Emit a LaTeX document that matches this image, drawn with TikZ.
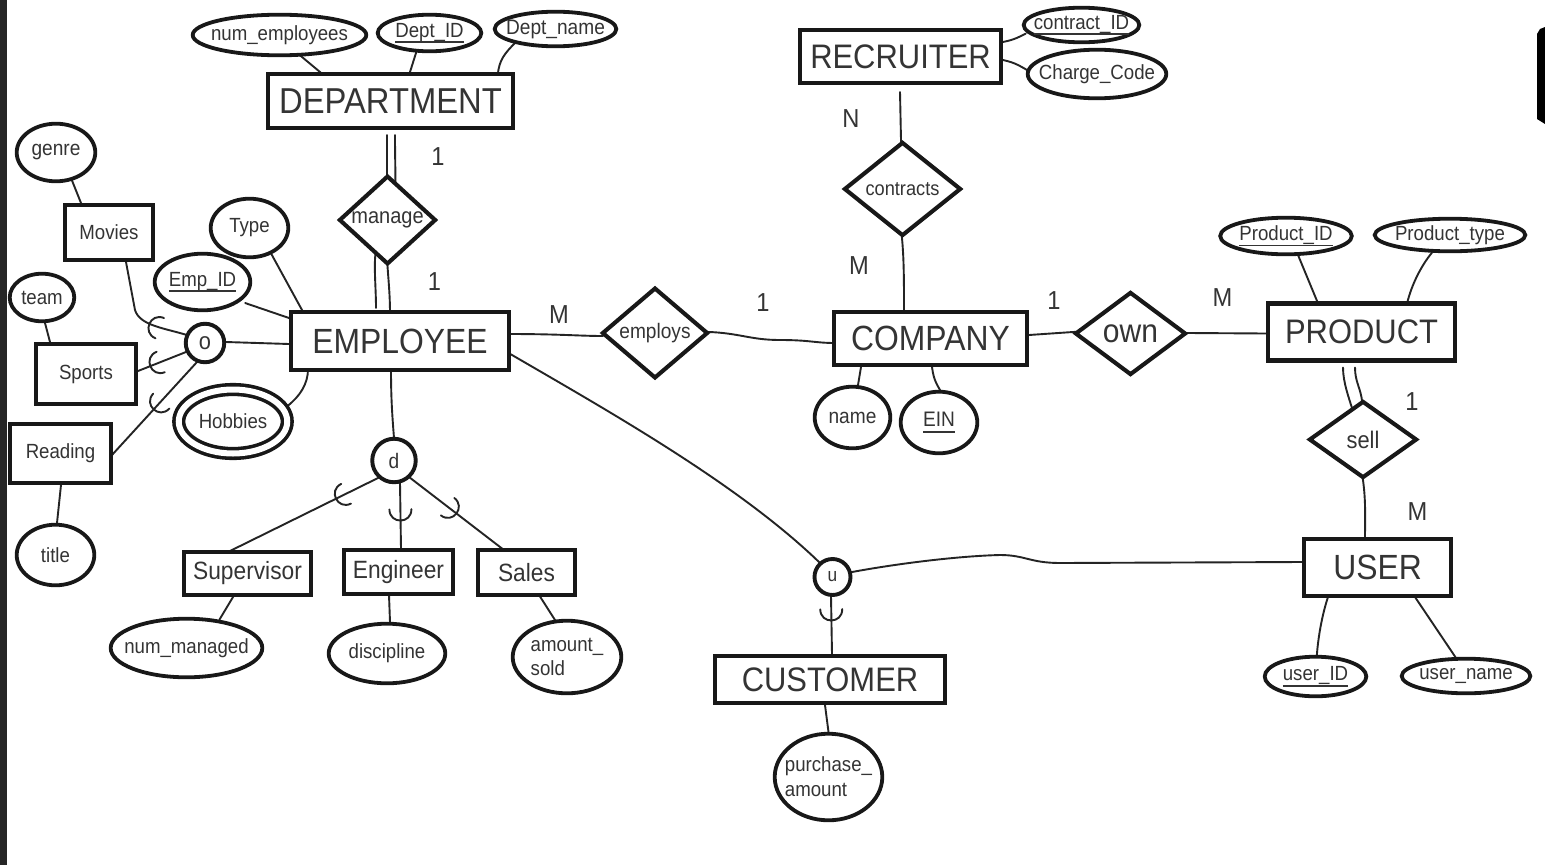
\documentclass[tikz,border=0pt]{standalone}
\usepackage{fontspec}
\setmainfont{Liberation Sans}[FakeStretch=0.91]
\usetikzlibrary{shapes.geometric,decorations.markings}
\pgfdeclarelayer{bg}
\pgfsetlayers{bg,main}
\definecolor{tc}{RGB}{52,52,52}
\definecolor{lc}{RGB}{24,24,24}
\definecolor{cc}{RGB}{36,36,36}
\newcommand\ulx[1]{\leavevmode\setbox0=\hbox{#1}\rlap{\rule[-6pt]{\wd0}{1.6pt}}\box0}
\begin{document}
\begin{tikzpicture}[x=1pt,y=-1pt,
 ent/.style={draw=lc, line width=4.1pt, fill=white, inner sep=0pt, text=tc, font=\fontsize{35}{40}\selectfont},
 fmid/.style={font=\fontsize{25}{30}\selectfont},
 fsml/.style={font=\fontsize{20.5}{24}\selectfont},
 rel/.style={diamond, draw=lc, line width=4.1pt, fill=white, inner sep=0pt, aspect=1, text=tc},
 attr/.style={ellipse, draw=lc, line width=3.8pt, fill=white, inner sep=0pt},
 gen/.style={circle, draw=lc, line width=3.9pt, fill=white, inner sep=0pt, text=tc},
 lnk/.style={draw=cc, line width=1.9pt, line cap=round},
 ext/.style={shorten <=-3pt, shorten >=-3pt},
 extend/.style={shorten >=-3pt},
 card/.style={text=tc, font=\fontsize{26}{30}\selectfont, inner sep=0pt},
 every label/.style={text=tc, font=\fontsize{20.5}{24}\selectfont, inner sep=0pt},
 subsetmark/.style={postaction={decorate, decoration={markings, mark=at position #1 with {\draw[draw=cc, line width=1.9pt, line cap=round] (-7pt,-11pt) .. controls (5pt,-11pt) and (5pt,11pt) .. (-7pt,11pt);}}}},
]
\useasboundingbox (0,0) rectangle (1545,865);

% frame remnants
\fill[black!85] (0,0) rectangle (7,865);
\fill[black] (1545,27) -- (1540,29) -- (1537,34) -- (1537,119) -- (1545,124) -- cycle;

% entities
\node[ent, minimum width=245pt, minimum height=54pt, font=\fontsize{36}{40}\selectfont] (dept) at (390.5,101) {DEPARTMENT};
\node[ent, minimum width=218pt, minimum height=58pt] (emp) at (400,341) {EMPLOYEE};
\node[ent, minimum width=201pt, minimum height=53pt, font=\fontsize{34}{40}\selectfont] (recr) at (900.5,56.5) {RECRUITER};
\node[ent, minimum width=193pt, minimum height=53pt] (comp) at (930.5,338.5) {COMPANY};
\node[ent, minimum width=187pt, minimum height=57pt, font=\fontsize{34}{40}\selectfont] (prod) at (1361.5,332) {PRODUCT};
\node[ent, minimum width=147pt, minimum height=57pt] (user) at (1377.5,567.5) {USER\hspace{16pt}};
\node[ent, minimum width=230pt, minimum height=47pt, font=\fontsize{34}{40}\selectfont] (cust) at (830,679.5) {CUSTOMER\hspace{15pt}};
\node[ent, fmid, minimum width=127pt, minimum height=43pt] (superv) at (247.5,573.5) {Supervisor};
\node[ent, fmid, minimum width=109pt, minimum height=44pt] (engin) at (398.5,572) {Engineer};
\node[ent, fmid, minimum width=97pt, minimum height=45pt] (sales) at (526.5,572.5) {\raisebox{-3pt}{Sales}};
\node[ent, fsml, line width=3.8pt, minimum width=88pt, minimum height=55pt] (movies) at (109,232.5) {Movies};
\node[ent, fsml, line width=3.8pt, minimum width=100pt, minimum height=60pt] (sports) at (86,374) {Sports\hspace{8pt}};
\node[ent, fsml, line width=3.8pt, minimum width=101pt, minimum height=59pt] (reading) at (60.5,453.5) {Reading\hspace{9pt}};

% relationships
\node[rel, minimum width=97pt, minimum height=72pt, font=\fontsize{22}{26}\selectfont] (manage) at (387.5,220) {manage};
\node[rel, minimum width=117pt, minimum height=94pt, font=\fontsize{20}{24}\selectfont] (contracts) at (902.5,189) {contracts};
\node[rel, minimum width=106pt, minimum height=88pt, font=\fontsize{21}{25}\selectfont] (employs) at (655,333) {employs};
\node[rel, minimum width=111pt, minimum height=83pt, font=\fontsize{33}{38}\selectfont] (own) at (1130.5,333.5) {own};
\node[rel, minimum width=108pt, minimum height=77pt, font=\fontsize{24}{28}\selectfont] (sell) at (1363,439.5) {sell};

% specialisation circles
\node[gen, minimum size=38.5pt, font=\fontsize{24}{28}\selectfont] (ocir) at (205,343) {o};
\node[gen, minimum size=43.5pt, font=\fontsize{21}{26}\selectfont] (dcir) at (394,460.5) {d};
\node[gen, minimum size=36pt, font=\fontsize{19}{24}\selectfont] (ucir) at (832.5,577) {u};

% attributes
\node[attr, minimum width=173.6pt, minimum height=40.6pt, label={center:num\_employees}] (numemp) at (279.5,35) {};
\node[attr, minimum width=103.6pt, minimum height=36.6pt, label={center:\ulx{Dept\_ID}}] (deptid) at (429.5,33) {};
\node[attr, minimum width=121.6pt, minimum height=34.6pt, label={[font=\fontsize{21}{24}\selectfont]center:Dept\_name}] (deptname) at (555.5,29) {};
\node[attr, minimum width=78.6pt, minimum height=57.6pt, label={[font=\fontsize{21}{24}\selectfont]center:genre}] (genre) at (56,152.5) {};
\node[attr, minimum width=77.6pt, minimum height=58.6pt, label={center:Type}] (type) at (249.5,228) {};
\node[attr, minimum width=95.6pt, minimum height=56.6pt, label={center:\ulx{Emp\_ID}}] (empid) at (202.5,282) {};
\node[attr, minimum width=64.6pt, minimum height=47.6pt, label={center:team}] (team) at (42,297.5) {};
\node[attr, minimum width=77.6pt, minimum height=60.6pt, label={center:title}] (title) at (55.5,555) {};
\node[ellipse, draw=lc, line width=3.6pt, double=white, double distance=6pt, fill=white, inner sep=0pt, minimum width=108.5pt, minimum height=64pt, label={center:Hobbies}] (hobbies) at (233,421.5) {};
\node[attr, minimum width=151.6pt, minimum height=58.6pt, label={center:num\_managed}] (nummanaged) at (186.5,648) {};
\node[attr, minimum width=116.6pt, minimum height=59.6pt, label={center:discipline}] (discipline) at (387,653.5) {};
\node[attr, minimum width=108.6pt, minimum height=72.6pt, label={[align=left]center:amount\_\\sold}] (amountsold) at (567,657) {};
\node[attr, minimum width=107.6pt, minimum height=86.6pt, label={[align=left, font=\fontsize{20.5}{25}\selectfont]center:purchase\_\\amount}] (purchase) at (828.5,777) {};
\node[attr, minimum width=115.6pt, minimum height=34.6pt, label={center:\ulx{contract\_ID}}] (contractid) at (1081.5,25) {};
\node[attr, minimum width=138.6pt, minimum height=48.6pt, label={center:Charge\_Code}] (chargecode) at (1097,74) {};
\node[attr, minimum width=75.6pt, minimum height=61.6pt, label={[font=\fontsize{21}{24}\selectfont]center:name}] (name) at (852.5,417.5) {};
\node[attr, minimum width=76.6pt, minimum height=61.6pt, label={[font=\fontsize{21}{24}\selectfont]center:\ulx{EIN}}] (ein) at (939,422.5) {};
\node[attr, minimum width=131.6pt, minimum height=36.6pt, label={center:\ulx{Product\_ID}}] (productid) at (1286,236) {};
\node[attr, minimum width=150.6pt, minimum height=32.6pt, label={center:Product\_type}] (producttype) at (1450,235) {};
\node[attr, minimum width=101.6pt, minimum height=39.6pt, label={center:\ulx{user\_ID}}] (userid) at (1315.5,676.5) {};
\node[attr, minimum width=128.6pt, minimum height=34.6pt, label={center:user\_name}] (username) at (1466,676) {};

% cardinalities
\node[card] (k1) at (438,157) {1};
\node[card] (k2) at (434.5,282) {1};
\node[card] (k3) at (559,315) {M};
\node[card] (k4) at (763,303) {1};
\node[card] (k5) at (851,119) {N};
\node[card] (k6) at (859,266) {M};
\node[card] (k7) at (1054,301) {1};
\node[card] (k8) at (1222.5,297.5) {M};
\node[card] (k9) at (1412,401.5) {1};
\node[card] (k10) at (1417.5,511.5) {M};

\begin{pgfonlayer}{bg}
\fill[white] (0,0) rectangle (1545,865);
% department attributes
\draw[lnk,ext] ([shift={(22.5,22)}]numemp.center) -- ([shift={(-70.5,-29)}]dept.center);
\draw[lnk,ext] ([shift={(-13.5,20)}]deptid.center) -- ([shift={(19.5,-29)}]dept.center);
\draw[lnk,ext] ([shift={(-42.5,16)}]deptname.center) .. controls +(-8,8) and +(1,-12) .. ([shift={(107.5,-29)}]dept.center);
% hobbies / subclasses left
\draw[lnk,ext] ([shift={(17,30.5)}]genre.center) -- ([shift={(-28,-29.5)}]movies.center);
\draw[lnk,ext] ([shift={(23.5,29)}]type.center) -- ([shift={(-98,-31)}]emp.center);
\draw[lnk,ext] ([shift={(45.5,22)}]empid.center) -- ([shift={(-111,-23)}]emp.center);
\draw[lnk,ext] ([shift={(21,-1)}]ocir.center) -- ([shift={(-111,3)}]emp.center);
\draw[lnk,ext] ([shift={(57,-17.5)}]hobbies.center) .. controls +(10,-8) and +(0,12) .. ([shift={(-92,31)}]emp.center);
\draw[lnk,ext] ([shift={(3,25.5)}]team.center) -- ([shift={(-36,-32)}]sports.center);
\draw[lnk,ext] ([shift={(0.5,31.5)}]reading.center) -- ([shift={(1.5,-32)}]title.center);
\draw[lnk,ext,subsetmark=0.35] ([shift={(-18,-8)}]ocir.center) .. controls (165,328) and (140,326) .. (135,310) -- ([shift={(17,29.5)}]movies.center);
\draw[lnk,ext,subsetmark=0.72] ([shift={(-19,9)}]ocir.center) -- ([shift={(52,-3)}]sports.center);
\draw[lnk,ext,subsetmark=0.5] ([shift={(-8,19)}]ocir.center) -- ([shift={(51.5,1.5)}]reading.center);
% disjoint specialisation
\draw[lnk,ext] ([shift={(-9,31)}]emp.center) .. controls +(0,25) and +(-2,-25) .. ([shift={(0,-22.5)}]dcir.center);
\draw[lnk,ext,subsetmark=0.28] ([shift={(-16,17.5)}]dcir.center) -- ([shift={(-15.5,-23.5)}]superv.center);
\draw[lnk,ext,subsetmark=0.55] ([shift={(6,22.5)}]dcir.center) -- ([shift={(2.5,-23)}]engin.center);
\draw[lnk,ext,subsetmark=0.5] ([shift={(15,16.5)}]dcir.center) -- ([shift={(-24.5,-24)}]sales.center);
\draw[lnk,ext] ([shift={(-14.5,23.5)}]superv.center) -- ([shift={(34.5,-31)}]nummanaged.center);
\draw[lnk,ext] ([shift={(-9.5,23)}]engin.center) -- ([shift={(3,-31.5)}]discipline.center);
\draw[lnk,ext] ([shift={(13.5,24)}]sales.center) -- ([shift={(-12,-37)}]amountsold.center);
% manage
\draw[lnk,extend] ([shift={(-3.5,34)}]dept.center) -- ([shift={(-0.5,-36)}]manage.center);
\draw[lnk,extend] ([shift={(4.5,34)}]dept.center) .. controls +(0,30) and +(1,-10) .. ([shift={(7.5,-30)}]manage.center);
\draw[lnk,ext] ([shift={(-11.5,29)}]manage.center) .. controls +(-3,12) and +(0,-20) .. ([shift={(-24,-36)}]emp.center);
\draw[lnk,ext] ([shift={(-0.5,38)}]manage.center) .. controls +(1,20) and +(0,-20) .. ([shift={(-10,-30)}]emp.center);
% recruiter / contracts
\draw[lnk,extend] ([shift={(-0.5,35.5)}]recr.center) -- ([shift={(-1.5,-49)}]contracts.center);
\draw[lnk,ext] ([shift={(-0.5,49)}]contracts.center) .. controls +(2,20) and +(0,-30) .. ([shift={(-26.5,-28.5)}]comp.center);
\draw[lnk,ext] ([shift={(102.5,-14.5)}]recr.center) .. controls +(10,-2) and +(-8,4) .. ([shift={(-58.5,10)}]contractid.center);
\draw[lnk,ext] ([shift={(102.5,3.5)}]recr.center) .. controls +(10,2) and +(-10,-6) .. ([shift={(-70,-4)}]chargecode.center);
% employs / own
\draw[lnk,ext] ([shift={(111,-7)}]emp.center) .. controls (560,334) and (580,336) .. ([shift={(-55,3)}]employs.center);
\draw[lnk,ext] ([shift={(55,-1)}]employs.center) .. controls (740,333) and (750,340) .. (780,340) .. controls (810,340) and (815,343) .. ([shift={(-98.5,4.5)}]comp.center);
\draw[lnk,ext] ([shift={(98.5,-3.5)}]comp.center) -- ([shift={(-57.5,-1.5)}]own.center);
\draw[lnk,ext] ([shift={(57.5,-0.5)}]own.center) -- ([shift={(-95.5,1.5)}]prod.center);
\draw[lnk,ext] ([shift={(-69.5,28.5)}]comp.center) -- ([shift={(5.5,-32.5)}]name.center);
\draw[lnk,ext] ([shift={(1.5,28.5)}]comp.center) .. controls +(1,10) and +(-5,-8) .. ([shift={(1,-32.5)}]ein.center);
% product
\draw[lnk,ext] ([shift={(12,19)}]productid.center) -- ([shift={(-45.5,-33.5)}]prod.center);
\draw[lnk,ext] ([shift={(-20,20)}]producttype.center) .. controls +(-10,12) and +(3,-15) .. ([shift={(45.5,-28.5)}]prod.center);
\draw[lnk,extend] ([shift={(-18.5,35.5)}]prod.center) .. controls +(0,15) and +(-3,-10) .. ([shift={(-11,-31.5)}]sell.center);
\draw[lnk,extend] ([shift={(-6.5,35.5)}]prod.center) .. controls +(0,15) and +(-1,-12) .. ([shift={(-1,-39.5)}]sell.center);
\draw[lnk,ext] ([shift={(0,40.5)}]sell.center) .. controls +(3,20) and +(0,-20) .. ([shift={(-12.5,-31)}]user.center);
\draw[lnk,ext] ([shift={(-50.5,32.5)}]user.center) .. controls +(-5,15) and +(1,-15) .. ([shift={(1.5,-23.5)}]userid.center);
\draw[lnk,ext] ([shift={(39.5,32.5)}]user.center) -- ([shift={(-12,-21)}]username.center);
% union
\draw[lnk,ext] ([shift={(112,14)}]emp.center) .. controls (610,412) and (740,485) .. ([shift={(-13.5,-15)}]ucir.center);
\draw[lnk,ext] ([shift={(19.5,-5)}]ucir.center) .. controls (900,563) and (960,556) .. (1000,555) .. controls (1025,555) and (1030,563) .. (1060,563) -- ([shift={(-75.5,-5.5)}]user.center);
\draw[lnk,ext,subsetmark=0.4] ([shift={(-1.5,19)}]ucir.center) -- ([shift={(2,-25.5)}]cust.center);
\draw[lnk,ext] ([shift={(-5,25.5)}]cust.center) -- ([shift={(0,-45)}]purchase.center);
\end{pgfonlayer}
\end{tikzpicture}
\end{document}
